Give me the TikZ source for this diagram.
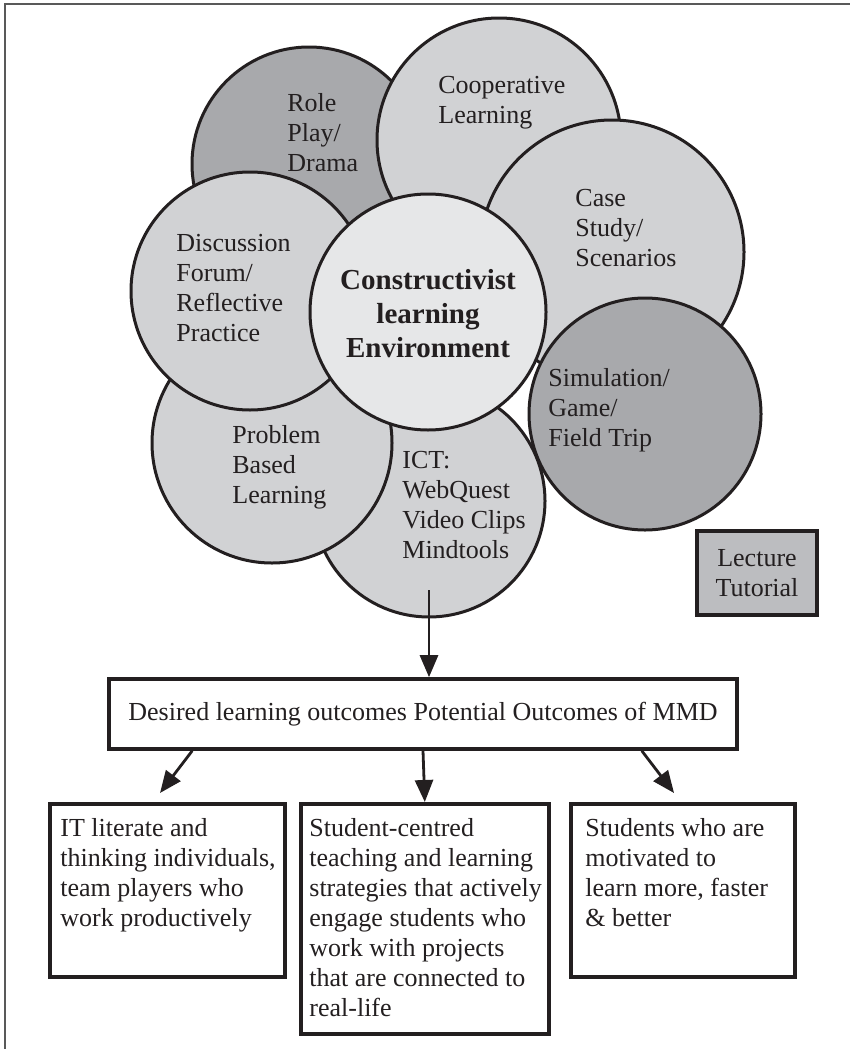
\documentclass[tikz,border=0pt]{standalone}
\usepackage{fontspec}
\setmainfont{Liberation Serif}
\usepackage{tikz}
\usetikzlibrary{arrows.meta}
\definecolor{petallight}{RGB}{209,210,212}
\definecolor{petaldark}{RGB}{168,169,172}
\definecolor{hubfill}{RGB}{230,231,232}
\definecolor{lecturefill}{RGB}{188,189,192}
\definecolor{inkgray}{RGB}{35,31,32}

\begin{document}
\begin{tikzpicture}[x=0.5pt, y=-0.5pt]
    % Define styles for petals, boxes and arrows
    \tikzstyle{petal}=[circle, draw=inkgray, line width=1.5pt, inner sep=0pt]
    \tikzstyle{hub}=[petal, fill=hubfill, minimum size=118pt]
    \tikzstyle{petal text}=[anchor=west, align=left, inner sep=0pt, text=inkgray, font=\fontsize{13}{15}\selectfont]
    \tikzstyle{hub text}=[align=center, inner sep=0pt, text=inkgray, font=\fontsize{14.5}{17}\selectfont\bfseries]
    \tikzstyle{outbox}=[draw=inkgray, line width=1.8pt, inner sep=0pt, text=inkgray, font=\fontsize{13}{15}\selectfont]
    \tikzstyle{outtext}=[anchor=north west, align=left, inner sep=0pt, text=inkgray, font=\fontsize{13}{15}\selectfont]
    \tikzstyle{arrow}=[draw=inkgray, line width=1.4pt, -{Triangle[length=11pt, width=9pt]}]

    \useasboundingbox (0,0) rectangle (850,1049);

    % Frame
    \draw[gray!70!black, line width=1pt] (5,1049) -- (5,4) -- (850,4);

    % Petals, drawn back to front
    \foreach \i/\x/\y/\r/\f in {1/309/164/117/petaldark, 2/499/140/122/petallight,
                                3/612/252/132/petallight, 4/645/414/116/petaldark,
                                5/429/501/116/petallight, 6/272/443/120/petallight,
                                7/250/291/119/petallight} {
        \node[petal, fill=\f, minimum size=\r pt] (P-\i) at (\x,\y) {};
    }
    \node[hub] (H) at (428,312) {};

    % Petal labels
    \node[petal text] (L-1) at (287,133) {Role\\Play/\\Drama};
    \node[petal text] (L-2) at (438,103) {Cooperative\\Learning};
    \node[petal text] (L-3) at (575,228) {Case\\Study/\\Scenarios};
    \node[petal text] (L-4) at (548,410) {Simulation/\\Game/\\Field Trip};
    \node[petal text] (L-5) at (402,505) {ICT:\\WebQuest\\Video Clips\\Mindtools};
    \node[petal text] (L-6) at (232,467) {Problem\\Based\\Learning};
    \node[petal text] (L-7) at (176,288) {Discussion\\Forum/\\Reflective\\Practice};
    \node[hub text] (L-0) at (428,314) {Constructivist\\learning\\Environment};

    % Lecture box
    \node[outbox, fill=lecturefill, minimum width=60pt, minimum height=42pt, align=center] (B-1) at (757,573) {Lecture\\Tutorial};

    % Outcomes
    \node[outbox, minimum width=314pt, minimum height=35pt] (D-1) at (423,714) {Desired learning outcomes Potential Outcomes of MMD};
    \node[outbox, minimum width=117.5pt, minimum height=86.5pt, anchor=north west] (O-1) at (48,802) {};
    \node[outbox, minimum width=124pt, minimum height=115pt, anchor=north west] (O-2) at (299,802) {};
    \node[outbox, minimum width=112pt, minimum height=86.5pt, anchor=north west] (O-3) at (569,802) {};
    \node[outtext] (T-1) at (60,818) {IT literate and\\thinking individuals,\\team players who\\work productively};
    \node[outtext] (T-2) at (309,818) {Student-centred\\teaching and learning\\strategies that actively\\engage students who\\work with projects\\that are connected to\\real-life};
    \node[outtext] (T-3) at (585,818) {Students who are\\motivated to\\learn more, faster\\\& better};

    % Connections
    \coordinate (A-1) at (429,590);
    \coordinate (A-2) at (160,793);
    \coordinate (A-3) at (674,793);
    \draw[arrow] (A-1) -- (A-1 |- D-1.north);
    \draw[arrow] ([xshift=42.5pt]D-1.south west) -- (A-2);
    \draw[arrow] (D-1.south) -- (O-2.north);
    \draw[arrow] ([xshift=-48.5pt]D-1.south east) -- (A-3);

\end{tikzpicture}
\end{document}
